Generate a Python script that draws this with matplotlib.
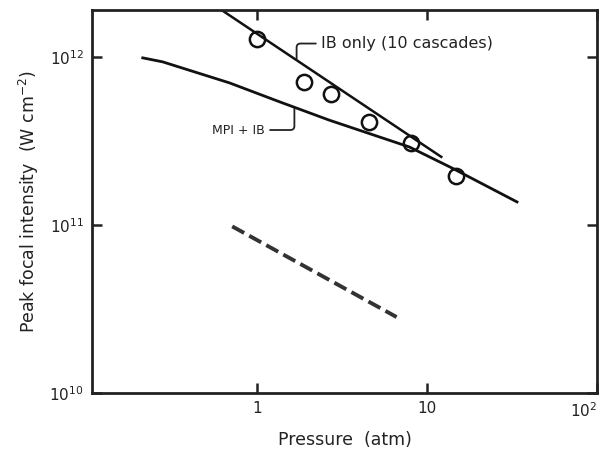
import numpy as np
import matplotlib
matplotlib.use('Agg')
import matplotlib.pyplot as plt

# MPI + IB 계산 곡선
mpi_p = [0.211, 0.276, 0.684, 1.35, 2.65, 7.84, 14.0, 33.8]
mpi_i = [9.86e11, 9.34e11, 7.0e11, 5.4e11, 4.2e11, 2.91e11, 2.18e11, 1.37e11]

# IB only (10 cascades) 직선
ib_p = [0.614, 12.1]
ib_i = [1.9e12, 2.54e11]

# 측정값 (원)
meas_p = [1.0, 1.89, 2.72, 4.56, 8.05, 14.8]
meas_i = [1.28e12, 7.1e11, 6.0e11, 4.1e11, 3.08e11, 1.96e11]

# 점선
dash_p = [0.71, 6.6]
dash_i = [9.8e10, 2.83e10]

plt.rcParams['font.family'] = 'DejaVu Sans'

fig = plt.figure(figsize=(6.03, 4.67), dpi=100)
ax = fig.add_axes([0.1526, 0.1585, 0.8374, 0.8201])

ax.plot(mpi_p, mpi_i, color='#111111', lw=2.0)
ax.plot(ib_p, ib_i, color='#111111', lw=1.8)
ax.plot(meas_p, meas_i, 'o', ms=11, mfc='none', mec='#111111', mew=1.8)
ax.plot(dash_p, dash_i, color='#333333', lw=2.8, dashes=(3.5, 1.5))

ax.set_xscale('log')
ax.set_yscale('log')
ax.set_xlim(0.106, 100)
ax.set_ylim(1e10, 1.9e12)

ax.set_xticks([1, 10, 100])
ax.set_xticklabels(['1', '10', r'$10^2$'])
ax.set_yticks([1e10, 1e11, 1e12])
ax.set_yticklabels([r'$10^{10}$', r'$10^{11}$', r'$10^{12}$'])
ax.minorticks_off()
ax.tick_params(direction='in', length=7, width=1.8, top=True, right=True,
               labelsize=11, colors='#222222', pad=6)
ax.get_xticklabels()[-1].set_ha('right')
for s in ax.spines.values():
    s.set_linewidth(2.0)
    s.set_color('#222222')

ax.set_xlabel('Pressure  (atm)', fontsize=12.5, color='#222222', labelpad=8)
ax.set_ylabel(r'Peak focal intensity  (W cm$^{-2}$)', fontsize=12.5,
              color='#222222', labelpad=6)

ax.annotate('IB only (10 cascades)', xy=(1.7, 9.6e11), xytext=(2.38, 1.2e12),
            fontsize=11.5, ha='left', va='center', color='#222222',
            arrowprops=dict(arrowstyle='-', color='#222222', lw=1.3,
                            shrinkA=2, shrinkB=0,
                            connectionstyle='angle,angleA=0,angleB=90,rad=4'))
ax.annotate('MPI + IB', xy=(1.65, 4.92e11), xytext=(1.1, 3.67e11),
            fontsize=9, ha='right', va='center', color='#222222',
            arrowprops=dict(arrowstyle='-', color='#222222', lw=1.3,
                            shrinkA=2, shrinkB=0,
                            connectionstyle='angle,angleA=0,angleB=90,rad=4'))

fig.savefig('out.png', dpi=100, facecolor='white')
